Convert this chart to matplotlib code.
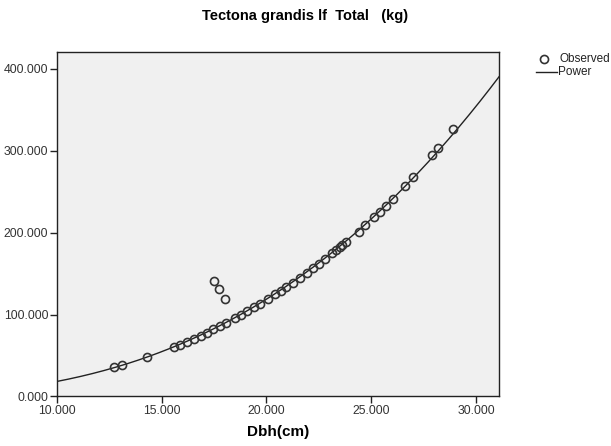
import numpy as np
import matplotlib
matplotlib.use("Agg")
import matplotlib.pyplot as plt
from matplotlib.lines import Line2D

plt.rcParams['font.family'] = ['Liberation Sans', 'DejaVu Sans']

title = "Tectona grandis lf  Total   (kg)"
x_label = "Dbh(cm)"
legend_labels = ["Observed", "Power"]

dbh = [12.71, 13.12, 14.30, 15.60, 15.89, 16.20, 16.55, 16.87, 17.19, 17.46,
       17.78, 18.10, 18.49, 18.81, 19.08, 19.41, 19.68, 20.08, 20.40, 20.71,
       20.95, 21.27, 21.59, 21.93, 22.22, 22.51, 22.81, 23.15, 23.34, 23.50,
       23.60, 23.82, 24.41, 24.73, 25.13, 25.40, 25.71, 26.03, 26.60, 27.00,
       27.90, 28.20, 28.89, 17.50, 17.73, 18.05]
total = [35.5, 38.5, 48.0, 60.0, 63.0, 66.0, 70.0, 74.0, 78.0, 82.0,
         86.0, 90.0, 96.0, 100.0, 104.0, 109.0, 113.0, 119.0, 125.0, 129.0,
         134.0, 139.0, 145.0, 151.0, 157.0, 162.0, 168.0, 175.0, 179.0, 182.0,
         185.0, 189.0, 201.0, 209.0, 219.0, 225.0, 233.0, 241.0, 257.0, 268.0,
         295.0, 304.0, 327.0, 141.0, 131.5, 119.5]

# power model W = a * D^b
power_a = 0.0369
power_b = 2.696

x_ticks = [10, 15, 20, 25, 30]
y_ticks = [0, 100, 200, 300, 400]
x_range = (10, 31.1)
y_range = (0, 421)

fig = plt.figure(figsize=(6.11, 4.46), dpi=100)
ax = fig.add_axes([0.0928, 0.111, 0.8167 - 0.0928, 0.884 - 0.111])
ax.set_facecolor('#f0f0f0')

d = np.linspace(x_range[0], x_range[1], 300)
ax.plot(d, power_a * d ** power_b, color='#222222', lw=1.0, zorder=2)
ax.plot(dbh, total, linestyle='none', marker='o', markersize=5.8,
        markerfacecolor='none', markeredgecolor='#333333', markeredgewidth=1.2, zorder=3)

ax.set_xlim(*x_range)
ax.set_ylim(*y_range)
ax.set_xticks(x_ticks)
ax.set_yticks(y_ticks)
ax.set_xticklabels([f"{v:.3f}" for v in x_ticks])
ax.set_yticklabels([f"{v:.3f}" for v in y_ticks])
ax.tick_params(direction='out', length=5, width=1, colors='#222222', labelsize=8.8, pad=1)
ax.tick_params(labelcolor='#333333')
for s in ax.spines.values():
    s.set_color('#222222')
    s.set_linewidth(1.0)

ax.set_xlabel(x_label, fontsize=11, fontweight='bold', labelpad=6)
fig.text(305 / 611, 1 - 16 / 446, title, fontsize=10.5, fontweight='bold', ha='center', va='center')

# legend
W, H = 611, 446
fig.add_artist(Line2D([544 / W], [1 - 59 / H], marker='o', markersize=5.8,
                      markerfacecolor='none', markeredgecolor='#333333', markeredgewidth=1.2,
                      linestyle='none', transform=fig.transFigure))
fig.text(559 / W, 1 - 59 / H, legend_labels[0], fontsize=8.5, va='center', ha='left', color='#222222')
fig.add_artist(Line2D([536 / W, 557 / W], [1 - 72 / H, 1 - 72 / H], color='#222222', lw=1.0,
                      transform=fig.transFigure))
fig.text(558 / W, 1 - 72 / H, legend_labels[1], fontsize=8.5, va='center', ha='left', color='#222222')

fig.savefig("out.png", dpi=100)
